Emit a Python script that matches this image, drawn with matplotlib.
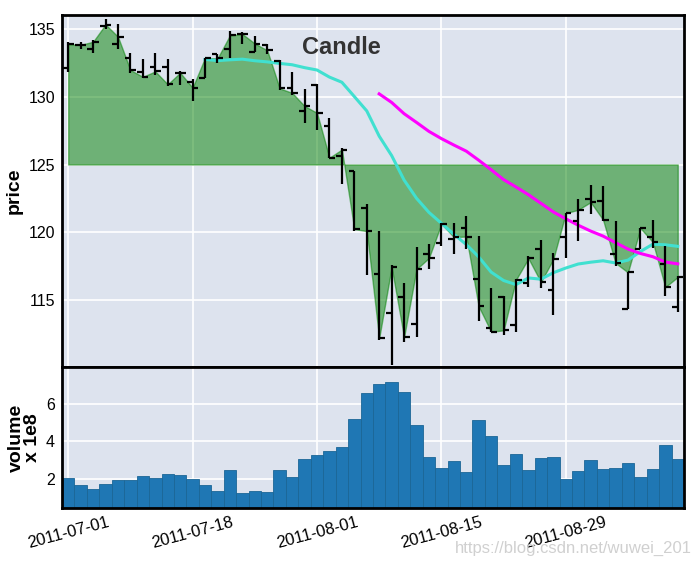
import numpy as np
import pandas as pd
import matplotlib
matplotlib.use('Agg')
import matplotlib.pyplot as plt

plt.rcParams['font.family'] = ['Liberation Sans', 'DejaVu Sans']

# daily OHLC (trading days from 2011-07-01)
opens = [132.1, 133.8, 133.5, 135.2, 133.85, 132.8, 131.8, 132.15, 132.2, 131.75,
         131.1, 131.4, 133.1, 133.47, 134.6, 133.3, 133.8, 132.6, 130.65, 128.93,
         130.83, 127.82, 125.66, 124.5, 121.8, 116.96, 114.07, 115.24, 113.24, 118.38,
         119.26, 119.5, 120.3, 116.57, 113.0, 115.25, 113.16, 116.27, 118.77, 115.74,
         119.63, 120.88, 122.48, 122.33, 118.43, 114.39, 118.8, 119.63, 117.7, 114.49]
highs = [134.03, 134.0, 134.15, 135.68, 135.33, 133.17, 132.73, 133.17, 132.73, 131.85,
         131.3, 132.85, 133.1, 134.8, 134.72, 134.47, 133.88, 132.66, 131.77, 130.55,
         130.9, 128.45, 126.2, 124.5, 122.06, 120.1, 117.62, 116.27, 118.92, 119.17,
         120.69, 120.73, 121.2, 119.75, 115.9, 115.3, 116.57, 118.24, 119.41, 118.48,
         121.42, 122.45, 123.5, 123.43, 120.86, 117.08, 120.32, 120.93, 118.97, 116.77]
lows = [131.8, 133.5, 133.2, 134.94, 133.47, 131.7, 131.4, 131.55, 130.77, 130.82,
        129.7, 131.4, 132.45, 132.8, 133.83, 133.25, 133.1, 130.47, 130.15, 128.04,
        127.57, 125.5, 123.58, 120.1, 116.9, 112.06, 110.27, 111.94, 112.3, 117.33,
        119.04, 118.4, 118.8, 113.46, 112.65, 112.43, 112.65, 115.98, 115.9, 113.9,
        118.11, 119.34, 121.35, 120.86, 117.5, 114.39, 118.77, 118.85, 115.3, 114.12]
closes = [133.85, 133.8, 134.03, 135.3, 134.4, 131.95, 131.45, 131.85, 130.9, 131.75,
          130.65, 132.85, 132.8, 134.5, 134.6, 133.9, 133.4, 130.6, 130.27, 129.3,
          128.8, 125.5, 126.1, 120.25, 120.1, 112.23, 117.45, 112.3, 117.3, 118.12,
          120.64, 119.66, 119.7, 114.56, 112.7, 112.8, 116.52, 118.09, 116.35, 118.04,
          121.42, 121.67, 122.23, 120.93, 117.75, 117.06, 120.32, 119.29, 115.98, 116.72]
# volume in units of 1e8
volumes = [2.05, 1.68, 1.46, 1.73, 1.95, 1.95, 2.16, 2.05, 2.27, 2.21,
           2.0, 1.68, 1.36, 2.48, 1.25, 1.36, 1.3, 2.48, 2.11, 3.07,
           3.29, 3.5, 3.71, 5.21, 6.6, 7.04, 7.18, 6.64, 4.88, 3.16,
           2.57, 2.95, 2.36, 5.14, 4.29, 2.73, 3.32, 2.46, 3.11, 3.16,
           1.98, 2.41, 3.0, 2.52, 2.57, 2.84, 2.09, 2.52, 3.8, 3.05]

tick_pos = [0, 10, 20, 30, 40]
tick_labels = ['2011-07-01', '2011-07-18', '2011-08-01', '2011-08-15', '2011-08-29']

x = np.arange(len(closes))
ma12 = pd.Series(closes).rolling(12).mean()
ma26 = pd.Series(closes).rolling(26).mean()

bg = '#dde3ee'
fig = plt.figure(figsize=(6.95, 5.7), dpi=100)
ax1 = fig.add_axes([0.0892, 0.3561, 0.8949, 0.6176], facecolor=bg)
ax2 = fig.add_axes([0.0892, 0.1088, 0.8949, 0.2473], facecolor=bg, sharex=ax1)

for ax in (ax1, ax2):
    ax.grid(True, color='white', linewidth=1.2)
    ax.set_axisbelow(True)
    for s in ax.spines.values():
        s.set_color('black')
        s.set_linewidth(2)
    ax.tick_params(length=0, labelsize=12, pad=5)
    ax.tick_params(axis='y', labelsize=11.5)

# ohlc bars
ax1.vlines(x, lows, highs, color='black', linewidth=1.6, zorder=4)
ax1.hlines(opens, x - 0.45, x, color='black', linewidth=1.6, zorder=4)
ax1.hlines(closes, x, x + 0.45, color='black', linewidth=1.6, zorder=4)

ax1.fill_between(x, closes, 125, color='green', alpha=0.5, zorder=2)
ax1.plot(x, ma12, color='turquoise', linewidth=2.2, zorder=3)
ax1.plot(x, ma26, color='magenta', linewidth=2.2, zorder=3)
ax1.text(22, 133.6, 'Candle', fontsize=17, fontweight='bold', color='#333333',
         ha='center', va='center')

ax1.set_ylim(110.1, 136.0)
ax1.set_yticks([115, 120, 125, 130, 135])
ax1.set_ylabel('price', fontsize=14, fontweight='bold')
plt.setp(ax1.get_xticklabels(), visible=False)

ax2.bar(x, volumes, width=1.0, color='#1f77b4', edgecolor='#1b6696', linewidth=0.6)
ax2.set_ylim(0.45, 7.97)
ax2.set_yticks([2, 4, 6])
ax2.set_ylabel('volume\nx 1e8', fontsize=14, fontweight='bold', linespacing=1.0)
ax2.set_xlim(-0.5, 49.5)
ax2.set_xticks(tick_pos)
ax2.set_xticklabels(tick_labels, rotation=15, ha='center')

ax1.yaxis.set_label_coords(-0.063, 0.5)
ax2.yaxis.set_label_coords(-0.033, 0.5)

fig.text(0.995, 0.025, 'https://blog.csdn.net/wuwei_201', color='#d0d0d0',
         fontsize=12, ha='right', va='bottom')

fig.savefig('out.png', dpi=100)
